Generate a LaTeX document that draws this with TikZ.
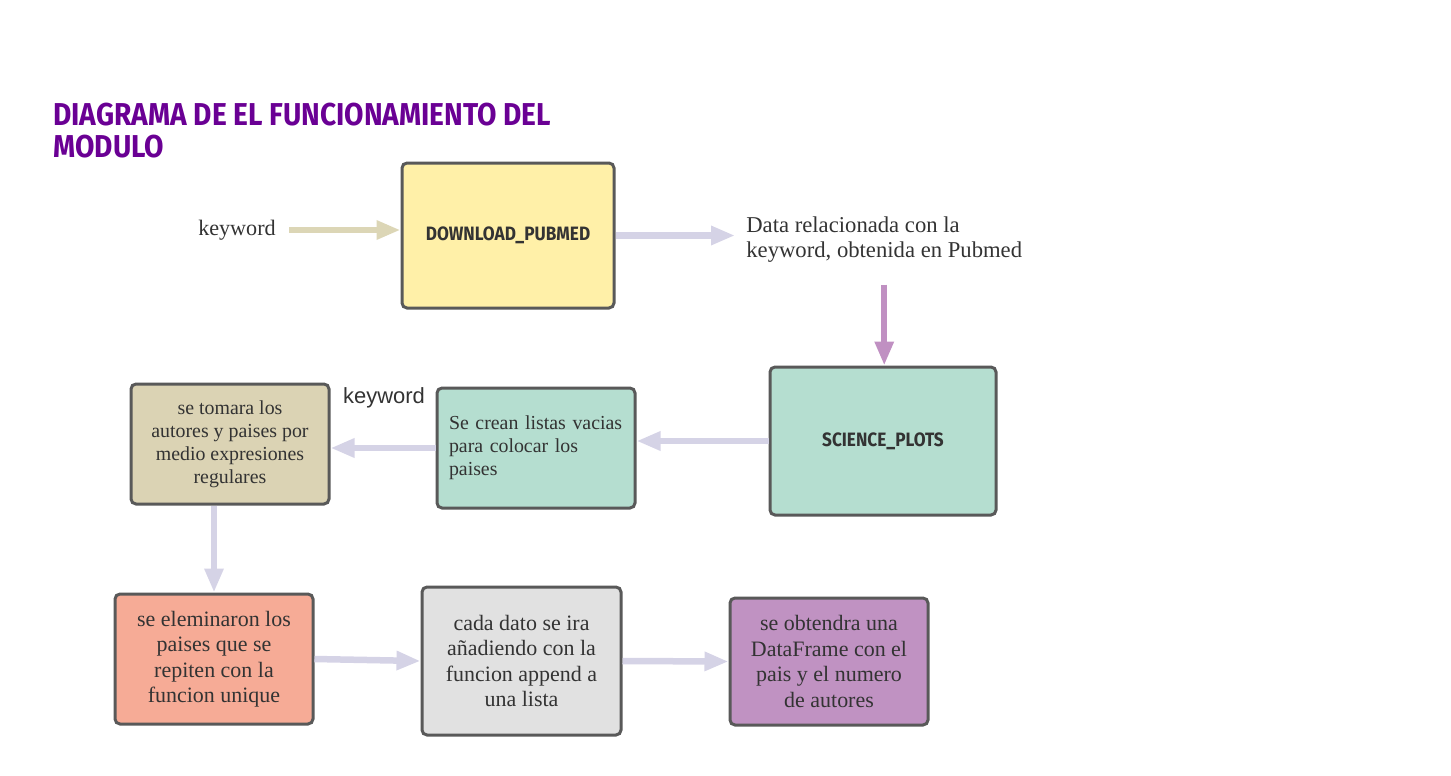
\documentclass[tikz,border=0pt]{standalone}
\usepackage{fontspec}
\setmainfont{Liberation Serif}
\setsansfont{Liberation Sans}
\newfontfamily\headfont{Fira Sans}
\usepackage{tikz}
\usetikzlibrary{positioning}
\usetikzlibrary{arrows.meta}
\usepackage{xcolor}
\usepackage{graphicx}

\definecolor{titlepurple}{RGB}{106,0,148}
\definecolor{inkgray}{RGB}{51,51,51}
\definecolor{boxline}{RGB}{89,89,89}
\definecolor{flowgray}{RGB}{213,211,230}
\definecolor{flowtan}{RGB}{220,214,182}
\definecolor{flowpurple}{RGB}{192,144,194}
\definecolor{fillyellow}{RGB}{255,240,168}
\definecolor{fillmint}{RGB}{181,222,208}
\definecolor{filltan}{RGB}{219,211,180}
\definecolor{fillsalmon}{RGB}{246,171,150}
\definecolor{fillgray}{RGB}{225,225,225}
\definecolor{fillpurple}{RGB}{192,146,194}

\newcommand{\headtxt}[1]{\scalebox{0.89}[1]{\headfont\bfseries #1}}

\begin{document}
\begin{tikzpicture}[
  txt/.style={text=inkgray, inner sep=0pt},
  box/.style={draw=boxline, line width=0.06cm, rounded corners=0.1cm, text=inkgray, align=center},
  midfont/.style={font=\fontsize{11.3}{13.1}\selectfont},
  lowfont/.style={font=\fontsize{12.5}{14.5}\selectfont},
  flow/.style={-{Triangle[length=0.48cm, width=0.36cm]}, line width=0.13cm, draw=flowgray}
]
\useasboundingbox (0,0) rectangle (29.02,-15.5);

% title
\node[anchor=north west, inner sep=0pt, align=left, text=titlepurple,
      font=\fontsize{18}{18.2}\selectfont] (title) at (1.06,-2.06)
  {\headtxt{DIAGRAMA DE EL FUNCIONAMIENTO DEL}\\ \headtxt{MODULO}};

% nodes
\node[txt, font=\fontsize{12.6}{14}\selectfont] (kw) at (4.74,-4.6) {keyword};
\node[box, fill=fillyellow, minimum width=4.24cm, minimum height=2.9cm,
      font=\fontsize{11}{13}\selectfont] (dl) at (10.16,-4.71) {\headtxt{DOWNLOAD\_PUBMED}};
\node[txt, anchor=west, align=left, font=\fontsize{12.9}{14.2}\selectfont] (data) at (14.92,-4.79)
  {Data relacionada con la\\ keyword, obtenida en Pubmed};
\node[box, fill=fillmint, minimum width=4.52cm, minimum height=2.96cm,
      font=\fontsize{11}{13}\selectfont] (sp) at (17.66,-8.82) {\headtxt{SCIENCE\_PLOTS}};
\node[box, fill=fillmint, midfont, minimum height=2.4cm, text width=3.48cm,
      inner xsep=0.24cm, align=left] (listas) at (10.72,-8.96)
  {Se crean listas vacias\\ para colocar los\\ paises};
\node[txt, font=\sffamily\fontsize{12.5}{14}\selectfont] (kw2) at (7.68,-7.96) {keyword};
\node[box, fill=filltan, midfont, minimum width=3.96cm, minimum height=2.4cm] (tomara) at (4.6,-8.88)
  {se tomara los\\ autores y paises por\\ medio expresiones\\ regulares};
\node[box, fill=fillsalmon, lowfont, minimum width=3.96cm, minimum height=2.6cm] (elim) at (4.28,-13.18)
  {se eleminaron los\\ paises que se\\ repiten con la\\ funcion unique};
\node[box, fill=fillgray, lowfont, minimum width=3.98cm, minimum height=2.96cm] (cada) at (10.43,-13.22)
  {cada dato se ira\\ añadiendo con la\\ funcion append a\\ una lista};
\node[box, fill=fillpurple, lowfont, minimum width=3.96cm, minimum height=2.54cm] (obt) at (16.58,-13.23)
  {se obtendra una\\ DataFrame con el\\ pais y el numero\\ de autores};

% arrows
\draw[flow, draw=flowtan, shorten <=0.26cm] (kw.east) -- (kw.east -| dl.west);
\draw[flow, shorten >=0.22cm] (dl.east) -- (dl.east -| data.west);
\draw[flow, draw=flowpurple, shorten <=0.44cm] (data.south) -- (data.south |- sp.north);
\draw[flow] (sp.west) -- (sp.west -| listas.east);
\draw[flow] (listas.west) -- (listas.west -| tomara.east);
\draw[flow] (tomara.south -| elim.north) -- (elim.north);
\draw[flow] (elim.east) -- (cada.west);
\draw[flow] (cada.east) -- (obt.west);
\end{tikzpicture}
\end{document}
